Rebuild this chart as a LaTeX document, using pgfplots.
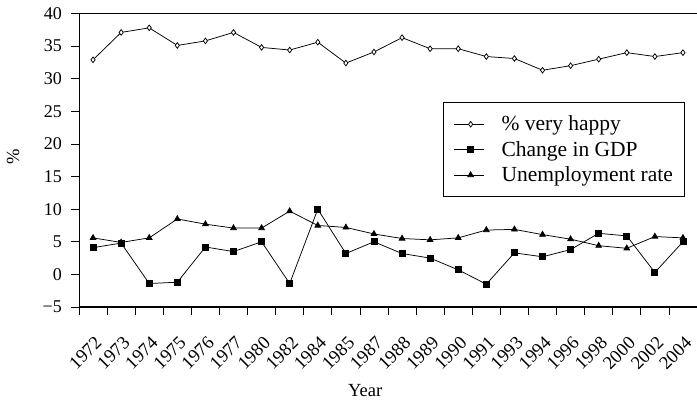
\documentclass[border=0pt]{standalone}
\usepackage{pgfplots}
\pgfplotsset{compat=1.18}
\usetikzlibrary{calc}
\usepackage{fontspec}
\setmainfont{Liberation Serif}
\begin{document}
\begin{tikzpicture}
\begin{axis}[
  name=ax,
  scale only axis,
  width=618pt, height=293.5pt,
  xmin=-0.5, xmax=21.5,
  ymin=-5, ymax=40,
  axis x line*=bottom, axis y line*=left,
  x axis line style={-, line width=1.6pt},
  y axis line style={-, line width=0.8pt},
  tick align=outside,
  xtick={0,...,21},
  xticklabels={1972,1973,1974,1975,1976,1977,1980,1982,1984,1985,1987,1988,1989,1990,1991,1993,1994,1996,1998,2000,2002,2004},
  minor xtick={-0.5,0.5,...,21.5},
  major x tick style={draw=none},
  minor x tick style={line width=0.8pt, black},
  minor tick length=8pt,
  major tick length=8pt,
  ytick={-5,0,5,...,40},
  yticklabels={−5,0,5,10,15,20,25,30,35,40},
  y tick style={line width=0.8pt, black},
  xticklabel style={xshift=1pt, yshift=-19pt, rotate=45, anchor=north east, inner sep=1pt, font=\fontsize{18.5}{18.5}\selectfont},
  yticklabel style={font=\fontsize{18}{18}\selectfont, inner sep=0pt, anchor=east, xshift=-9pt},
  xlabel={Year}, ylabel={\%},
  every axis x label/.style={at={(rel axis cs:0.463,0)}, anchor=center, yshift=-84pt, font=\fontsize{18.5}{18.5}\selectfont},
  every axis y label/.style={at={(rel axis cs:0,0.511)}, anchor=center, rotate=90, yshift=66pt, font=\fontsize{18.5}{18.5}\selectfont},
  legend style={at={(0.981,0.698)}, anchor=north east, draw=black, line width=0.8pt,
    font=\fontsize{21.5}{21.5}\selectfont, row sep=5pt, column sep=15pt, inner xsep=10pt, inner ysep=11.5pt},
  legend cell align=left,
  legend image code/.code={\path (0pt,0pt) -- (3pt,0pt);\draw[mark repeat=2,mark phase=2,#1] plot coordinates {(3pt,0pt)(16.5pt,0pt)(30pt,0pt)};},
  every axis plot/.append style={black, line width=0.75pt},
]
\addplot[mark=diamond*, mark options={fill=white, line width=0.75pt}, mark size=2.8pt] coordinates {
(0,32.9)(1,37.1)(2,37.8)(3,35.1)(4,35.8)(5,37.1)(6,34.8)(7,34.4)(8,35.6)(9,32.4)(10,34.1)
(11,36.3)(12,34.6)(13,34.6)(14,33.4)(15,33.1)(16,31.3)(17,32.0)(18,33.0)(19,34.0)(20,33.4)(21,34.0)};
\addlegendentry{\% very happy}
\addplot[mark=square*, mark size=3pt] coordinates {
(0,4.1)(1,4.8)(2,-1.4)(3,-1.2)(4,4.2)(5,3.5)(6,5.0)(7,-1.4)(8,10.0)(9,3.2)(10,5.0)
(11,3.2)(12,2.5)(13,0.7)(14,-1.5)(15,3.3)(16,2.7)(17,3.8)(18,6.3)(19,5.9)(20,0.3)(21,5.0)};
\addlegendentry{Change in GDP}
\addplot[mark=triangle*, mark size=3.3pt] coordinates {
(0,5.6)(1,4.9)(2,5.6)(3,8.5)(4,7.7)(5,7.1)(6,7.1)(7,9.7)(8,7.5)(9,7.2)(10,6.2)
(11,5.5)(12,5.3)(13,5.6)(14,6.8)(15,6.9)(16,6.1)(17,5.4)(18,4.4)(19,4.0)(20,5.8)(21,5.6)};
\addlegendentry{Unemployment rate}
\draw[line width=1pt] (rel axis cs:0,1) -- (rel axis cs:1,1);
\end{axis}
\pgfresetboundingbox
\path ($(ax.south west)+(-79pt,-98pt)$) rectangle ($(ax.north east)+(0pt,13.5pt)$);
\end{tikzpicture}
\end{document}
